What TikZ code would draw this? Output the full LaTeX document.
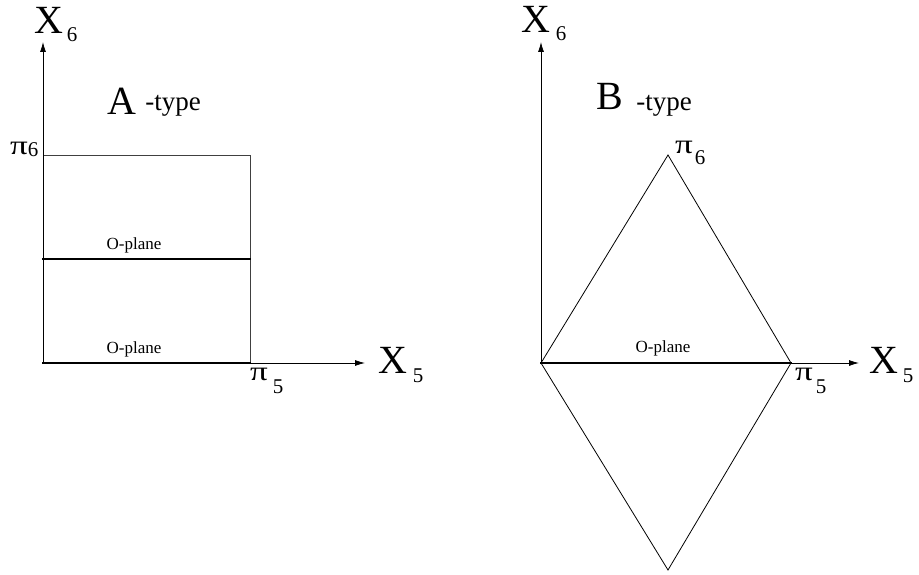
\documentclass[tikz,border=0pt]{standalone}
\usepackage{fontspec}
\setmainfont{Liberation Serif}
\usetikzlibrary{arrows.meta}
\begin{document}
\begin{tikzpicture}[x=1pt,y=-1pt,
  axis/.style={line width=0.8pt,-{Latex[length=10pt,width=6pt]}},
  edge/.style={line width=0.8pt,black!75},
  oplane/.style={line width=2.4pt,line cap=rect},
  big/.style={inner sep=0pt,font=\fontsize{40}{40}\selectfont},
  sub/.style={inner sep=0pt,font=\fontsize{21}{21}\selectfont},
  pil/.style={inner sep=0pt,xscale=1.3,font=\fontsize{27}{27}\selectfont},
  olab/.style={inner sep=0pt,font=\fontsize{17}{17}\selectfont},
  typ/.style={inner sep=0pt,font=\fontsize{27}{27}\selectfont}]
\useasboundingbox (0,0) rectangle (919,575);
% ---- left (A-type)
\coordinate (LO) at (43,363);
\coordinate (LYT) at (43,42);
\coordinate (LXT) at (365,363);
\coordinate (LR) at (250,363);
\coordinate (LTL) at (43,155);
\coordinate (LTR) at (250,155);
\coordinate (LML) at (43,259);
\coordinate (LMR) at (250,259);
\draw[edge] (LO) -- (LTL) -- (LTR) -- (LR);
\draw[axis] (LO) -- (LYT);
\draw[axis] (LO) -- (LXT);
\draw[oplane] (LML) -- (LMR);
\draw[oplane] (LO) -- (LR);
\node[olab] (lo1) at (134,245) {O-plane};
\node[olab] (lo2) at (134,349) {O-plane};
\node[big] (lx6) at (49,20) {X};
\node[sub] (lx6s) at (72,35) {6};
\node[big] (lA) at (122,101) {A};
\node[typ] (lAt) at (173,106) {-type};
\node[pil] (lp6) at (19,148) {π};
\node[sub] (lp6s) at (33,150) {6};
\node[pil] (lp5) at (259,374) {π};
\node[sub] (lp5s) at (278,387) {5};
\node[big] (lx5) at (393,360) {X};
\node[sub] (lx5s) at (418,376) {5};
% ---- right (B-type)
\coordinate (RO) at (541,363);
\coordinate (RYT) at (541,42);
\coordinate (RXT) at (859,363);
\coordinate (RR) at (791,363);
\coordinate (RT) at (668,155);
\coordinate (RB) at (668,570);
\draw[edge,black] (RO) -- (RT) -- (RR) -- (RB) -- cycle;
\draw[axis] (RO) -- (RYT);
\draw[axis] (RO) -- (RXT);
\draw[oplane] (RO) -- (RR);
\node[olab] (ro1) at (663,348) {O-plane};
\node[big] (rx6) at (536,19) {X};
\node[sub] (rx6s) at (561,34) {6};
\node[big] (rB) at (610,96) {B};
\node[typ] (rBt) at (664,106) {-type};
\node[pil] (rp6) at (684,147) {π};
\node[sub] (rp6s) at (700,158) {6};
\node[pil] (rp5) at (804,374) {π};
\node[sub] (rp5s) at (821,387) {5};
\node[big] (rx5) at (884,360) {X};
\node[sub] (rx5s) at (908,376) {5};
\end{tikzpicture}
\end{document}
